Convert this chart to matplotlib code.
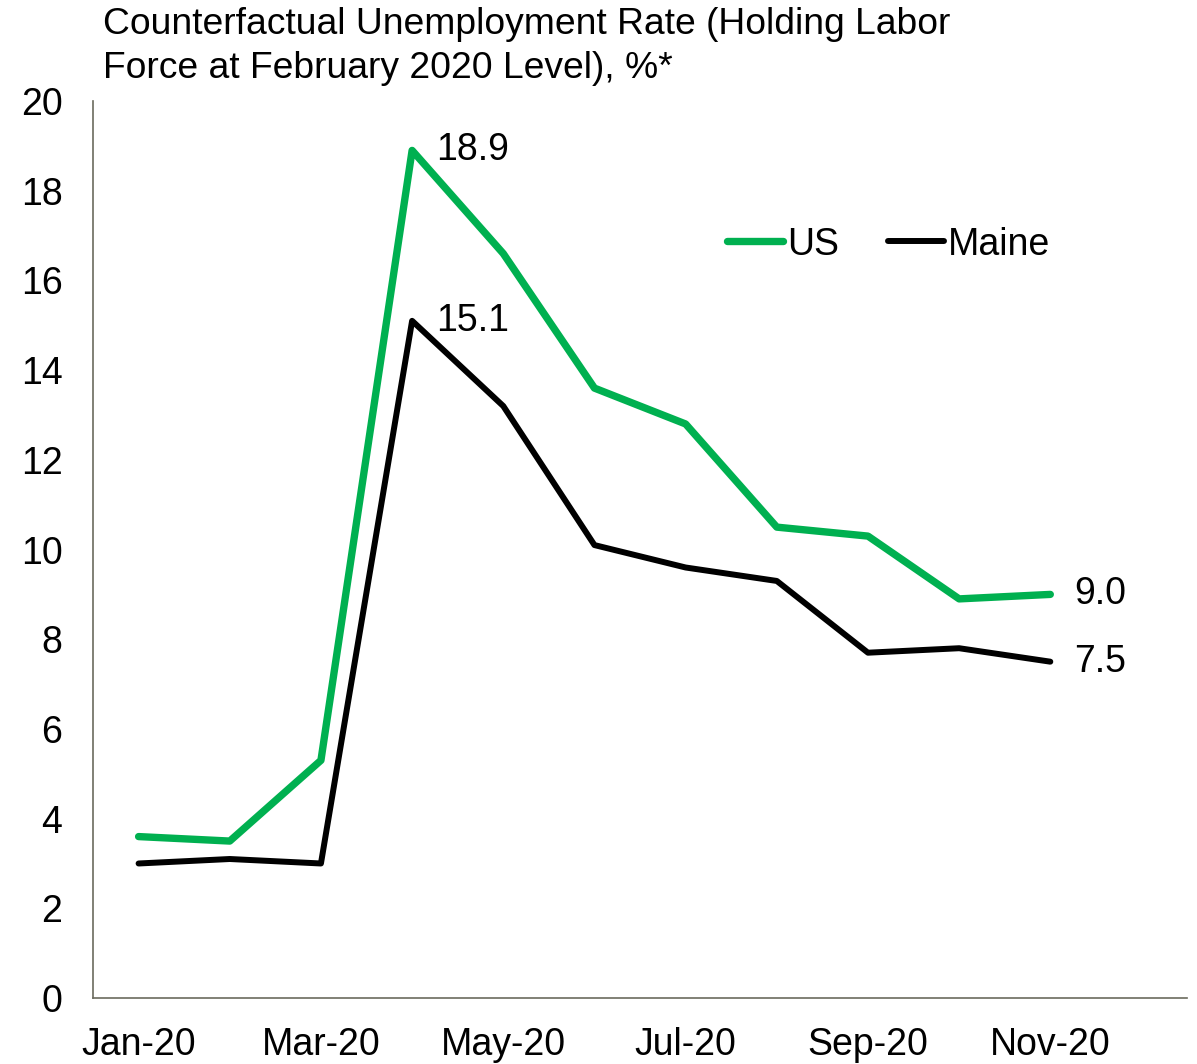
import matplotlib.pyplot as plt

plt.rcParams['font.family'] = ['Liberation Sans', 'DejaVu Sans']

months = ['Jan-20', 'Feb-20', 'Mar-20', 'Apr-20', 'May-20', 'Jun-20',
          'Jul-20', 'Aug-20', 'Sep-20', 'Oct-20', 'Nov-20']
us = [3.6, 3.5, 5.3, 18.9, 16.6, 13.6, 12.8, 10.5, 10.3, 8.9, 9.0]
maine = [3.0, 3.1, 3.0, 15.1, 13.2, 10.1, 9.6, 9.3, 7.7, 7.8, 7.5]
tick_labels = ['Jan-20', 'Mar-20', 'May-20', 'Jul-20', 'Sep-20', 'Nov-20']

green = '#00B050'

fig = plt.figure(figsize=(11.97, 10.64), dpi=100)
ax = fig.add_axes([0.0777, 0.062, 0.914, 0.843])

x = list(range(len(months)))
ax.plot(x, us, color=green, lw=5.3, label='US', solid_capstyle='round')
ax.plot(x, maine, color='black', lw=4.3, label='Maine', solid_capstyle='round')

# labels at the peak and at the last point
for series, i in [(us, 3), (maine, 3), (us, 10), (maine, 10)]:
    ax.annotate(f'{series[i]:.1f}', (x[i], series[i]), xytext=(17, 0),
                textcoords='offset points', va='center', ha='left', fontsize=27)

ax.set_xlim(-0.5, 11.5)
ax.set_ylim(0, 20)
ax.set_xticks([0, 2, 4, 6, 8, 10])
ax.set_xticklabels(tick_labels)
ax.set_yticks(range(0, 21, 2))
ax.tick_params(length=0, labelsize=27)
ax.tick_params(axis='x', pad=21)
ax.tick_params(axis='y', pad=22)

for s in ['top', 'right']:
    ax.spines[s].set_visible(False)
for s in ['left', 'bottom']:
    ax.spines[s].set_color('#6b6b5e')
    ax.spines[s].set_linewidth(1.2)

ax.legend(loc='center', bbox_to_anchor=(0.727, 0.84), ncol=2, frameon=False,
          fontsize=27, handlelength=1.5, handletextpad=0.1, columnspacing=1.3)

fig.text(0.086, 0.993, 'Counterfactual Unemployment Rate (Holding Labor\nForce at February 2020 Level), %*',
         fontsize=26.8, va='top', ha='left', linespacing=1.32)

fig.savefig('out.png', dpi=100)
